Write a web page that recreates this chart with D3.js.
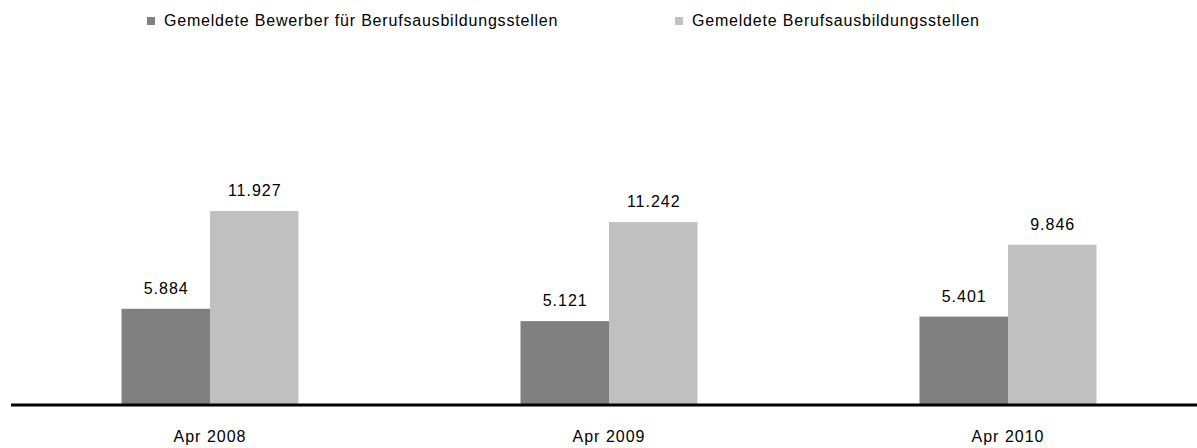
<!DOCTYPE html>
<html>
<head>
<meta charset="utf-8">
<script src="https://cdn.jsdelivr.net/npm/d3@7"></script>
<style>
  body { margin: 0; background: #fff; }
  text { font-family: "Liberation Sans", Arial, sans-serif; fill: #000; }
</style>
</head>
<body>
<script>
// data
const categories = ["Apr 2008", "Apr 2009", "Apr 2010"];
const seriesNames = ["Gemeldete Bewerber für Berufsausbildungsstellen", "Gemeldete Berufsausbildungsstellen"];
const bewerber = [5884, 5121, 5401];
const stellen = [11927, 11242, 9846];
const colors = ["#808080", "#c0c0c0"];

const width = 1197, height = 448;
const baseY = 404;

const svg = d3.select("body").append("svg")
  .attr("width", width)
  .attr("height", height);

const x0 = d3.scaleBand()
  .domain(categories)
  .range([10.5, 1207.5])
  .paddingInner(0)
  .paddingOuter(0);

const x1 = d3.scaleBand()
  .domain([0, 1])
  .range([x0.bandwidth() / 2 - 88.5, x0.bandwidth() / 2 + 88.5]);

const y = d3.scaleLinear()
  .domain([0, 11927])
  .range([baseY, 211]);

const rows = categories.map((c, i) => ({ cat: c, vals: [bewerber[i], stellen[i]] }));

const fmt = v => d3.format(",")(v).replace(/,/g, ".");

const g = svg.selectAll(".grp")
  .data(rows)
  .enter().append("g")
  .attr("class", "grp")
  .attr("transform", d => "translate(" + x0(d.cat) + ",0)");

g.selectAll("rect")
  .data(d => d.vals.map((v, k) => ({ v, k })))
  .enter().append("rect")
  .attr("x", d => x1(d.k))
  .attr("y", d => y(d.v))
  .attr("width", x1.bandwidth())
  .attr("height", d => baseY - y(d.v))
  .attr("fill", d => colors[d.k]);

g.selectAll(".lbl")
  .data(d => d.vals.map((v, k) => ({ v, k })))
  .enter().append("text")
  .attr("class", "lbl")
  .attr("x", d => x1(d.k) + x1.bandwidth() / 2 + 0.5)
  .attr("y", d => y(d.v) - 15)
  .attr("text-anchor", "middle")
  .style("font-size", "16px")
  .style("letter-spacing", "1px")
  .text(d => fmt(d.v));

// x axis
const xAxis = svg.append("g")
  .attr("transform", "translate(0," + (baseY + 1) + ")")
  .call(d3.axisBottom(x0).tickSize(0).tickPadding(25.5));
xAxis.select(".domain").remove();
xAxis.selectAll("text")
  .style("font-size", "16px")
  .style("letter-spacing", "1px")
  .style("fill", "#000")
  .style("font-family", "'Liberation Sans', Arial, sans-serif");

svg.append("line")
  .attr("x1", 11).attr("x2", width)
  .attr("y1", baseY + 1).attr("y2", baseY + 1)
  .attr("stroke", "#000")
  .attr("stroke-width", 3);

// legend
const legendX = [147, 675];
const legend = svg.selectAll(".leg")
  .data(seriesNames)
  .enter().append("g")
  .attr("class", "leg")
  .attr("transform", (d, i) => "translate(" + legendX[i] + ",0)");

legend.append("rect")
  .attr("x", 0).attr("y", 17)
  .attr("width", 8).attr("height", 8)
  .attr("fill", (d, i) => colors[i]);

legend.append("text")
  .attr("x", 17).attr("y", 26)
  .style("font-size", "16px")
  .style("letter-spacing", "0.8px")
  .text(d => d);
</script>
</body>
</html>
